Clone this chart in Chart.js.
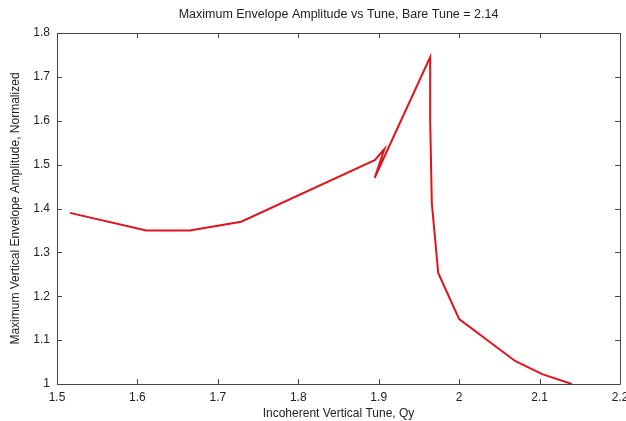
<!DOCTYPE html>
<html>
<head>
<meta charset="utf-8">
<script src="https://cdn.jsdelivr.net/npm/chart.js@4/dist/chart.umd.min.js"></script>
<style>
    html, body { margin: 0; padding: 0; background: #fff; }
    #wrap { width: 626px; height: 421px; }
</style>
</head>
<body>
<div id="wrap"><canvas id="chart"></canvas></div>
<script>
// Data (tune vs normalized amplitude, in plot order)
const tuneQy = [1.516, 1.611, 1.665, 1.729, 1.895, 1.907, 1.895, 1.964, 1.964, 1.966, 1.974, 2.0, 2.07, 2.104, 2.14];
const amplitude = [1.39, 1.35, 1.35, 1.37, 1.51, 1.535, 1.47, 1.745, 1.60, 1.413, 1.253, 1.148, 1.052, 1.022, 1.0];

const xTicks = [1.5, 1.6, 1.7, 1.8, 1.9, 2.0, 2.1, 2.2];
const yTicks = [1.0, 1.1, 1.2, 1.3, 1.4, 1.5, 1.6, 1.7, 1.8];

const TITLE = 'Maximum Envelope Amplitude vs Tune, Bare Tune = 2.14';
const FONT = 'Liberation Sans, Arial, sans-serif';
const AXIS_COLOR = '#444';

// Box around plot with inward ticks on all four sides, plus title centred over the plot
const framePlugin = {
    id: 'frame',
    afterDraw(chart) {
        const { ctx, chartArea: a, scales } = chart;
        const len = 5;
        ctx.save();
        ctx.strokeStyle = AXIS_COLOR;
        ctx.lineWidth = 1;
        ctx.beginPath();
        ctx.rect(Math.round(a.left) + 0.5, Math.round(a.top) + 0.5,
            Math.round(a.right - a.left), Math.round(a.bottom - a.top));
        xTicks.forEach(v => {
            const px = Math.round(scales.x.getPixelForValue(v)) + 0.5;
            ctx.moveTo(px, a.bottom); ctx.lineTo(px, a.bottom - len);
            ctx.moveTo(px, a.top); ctx.lineTo(px, a.top + len);
        });
        yTicks.forEach(v => {
            const py = Math.round(scales.y.getPixelForValue(v)) + 0.5;
            ctx.moveTo(a.left, py); ctx.lineTo(a.left + len, py);
            ctx.moveTo(a.right, py); ctx.lineTo(a.right - len, py);
        });
        ctx.stroke();

        ctx.fillStyle = '#222';
        ctx.font = '12.5px ' + FONT;
        ctx.textAlign = 'center';
        ctx.textBaseline = 'middle';
        ctx.fillText(TITLE, (a.left + a.right) / 2, 15);
        ctx.restore();
    }
};

const fmt = v => String(+(+v).toFixed(1));

new Chart(document.getElementById('chart'), {
    type: 'scatter',
    data: {
        datasets: [{
            data: tuneQy.map((x, i) => ({ x: x, y: amplitude[i] })),
            showLine: true,
            borderColor: '#e3121b',
            borderWidth: 2,
            pointRadius: 0,
            tension: 0,
        }]
    },
    options: {
        responsive: true,
        maintainAspectRatio: false,
        animation: false,
        layout: { padding: { left: 0, right: 6, top: 33, bottom: 0 } },
        plugins: {
            legend: { display: false },
            tooltip: { enabled: false },
            title: { display: false }
        },
        scales: {
            x: {
                type: 'linear',
                min: 1.5,
                max: 2.2,
                afterBuildTicks: s => { s.ticks = xTicks.map(v => ({ value: v })); },
                grid: { display: false, drawTicks: false },
                border: { display: false },
                ticks: {
                    color: '#222',
                    font: { family: FONT, size: 12 },
                    padding: 6,
                    maxRotation: 0,
                    callback: fmt
                },
                title: {
                    display: true,
                    text: 'Incoherent Vertical Tune, Qy',
                    color: '#222',
                    font: { family: FONT, size: 12 },
                    padding: { top: 1, bottom: 0 }
                },
                afterFit: s => { s.height = 37; s.paddingRight = 6; }
            },
            y: {
                type: 'linear',
                min: 1,
                max: 1.8,
                afterBuildTicks: s => { s.ticks = yTicks.map(v => ({ value: v })); },
                grid: { display: false, drawTicks: false },
                border: { display: false },
                ticks: {
                    color: '#222',
                    font: { family: FONT, size: 12 },
                    padding: 7,
                    callback: fmt
                },
                title: {
                    display: true,
                    text: 'Maximum Vertical Envelope Amplitude, Normalized',
                    color: '#222',
                    font: { family: FONT, size: 12 },
                    padding: { top: 8, bottom: 0 }
                },
                afterFit: s => { s.width = 57; }
            }
        }
    },
    plugins: [framePlugin]
});
</script>
</body>
</html>
